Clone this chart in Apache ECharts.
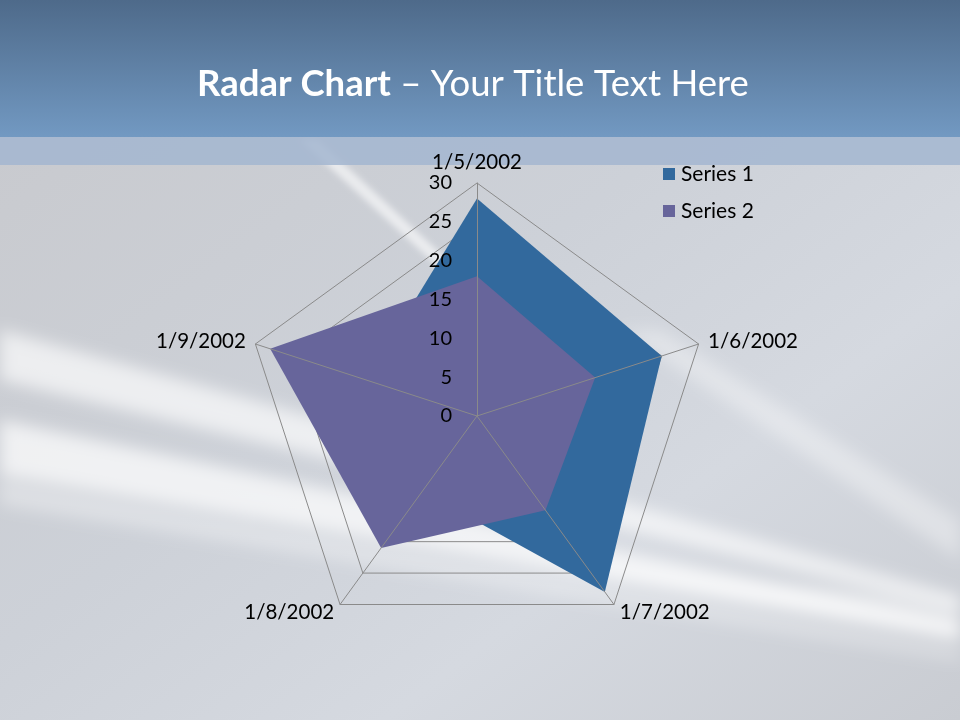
<!DOCTYPE html>
<html><head><meta charset="utf-8">
<script src="https://cdn.jsdelivr.net/npm/echarts@6/dist/echarts.min.js"></script>
<style>
html,body{margin:0;padding:0;width:960px;height:720px;overflow:hidden;}
#bg{position:absolute;left:0;top:0;width:960px;height:720px;}
#main{position:absolute;left:0;top:0;width:960px;height:720px;}
</style></head>
<body>
<svg id="bg" width="960" height="720" xmlns="http://www.w3.org/2000/svg">
  <defs>
    <linearGradient id="hdr" x1="0" y1="0" x2="0" y2="1">
      <stop offset="0" stop-color="#4e6a8a"/>
      <stop offset="1" stop-color="#7299c2"/>
    </linearGradient>
    <linearGradient id="base" x1="0" y1="0" x2="1" y2="1">
      <stop offset="0" stop-color="#c7c8cc"/>
      <stop offset="0.45" stop-color="#cdd1d8"/>
      <stop offset="0.7" stop-color="#d5d9e0"/>
      <stop offset="1" stop-color="#c9ccd2"/>
    </linearGradient>
    <filter id="blur8"><feGaussianBlur stdDeviation="8"/></filter>
    <filter id="blur3"><feGaussianBlur stdDeviation="3"/></filter>
  </defs>
  <rect x="0" y="0" width="960" height="720" fill="url(#base)"/>
  <g filter="url(#blur8)" fill="#ffffff">
    <polygon points="0,330 0,380 960,610 960,596" opacity="0.65"/>
    <polygon points="0,420 0,475 960,640 960,622" opacity="0.7"/>
    <polygon points="0,480 0,505 960,660 960,650" opacity="0.35"/>
    <polygon points="620,330 660,330 960,520 960,560" opacity="0.35"/>
    <polygon points="520,560 960,600 960,640" opacity="0.35"/>
  </g>
  <g filter="url(#blur3)" fill="#ffffff">
    <polygon points="300,140 318,140 480,290 470,296" opacity="0.6"/>
  </g>
  <rect x="0" y="0" width="960" height="137" fill="url(#hdr)"/>
  <rect x="0" y="137" width="960" height="28" fill="#a3b6d0" opacity="0.85"/>
</svg>
<div id="main"></div>
<script>
var categories = ['1/5/2002','1/6/2002','1/7/2002','1/8/2002','1/9/2002'];
var series1 = [28, 25, 28, 12, 15];
var series2 = [18, 16, 15, 21, 28];
var tickMax = 30;
var tickStep = 5;

// ECharts places indicators counter-clockwise; reorder for clockwise layout
var order = [0,4,3,2,1];
function reorder(a){ return order.map(function(i){return a[i];}); }
var indicators = order.map(function(i){ return {name: categories[i], max: tickMax, min: 0}; });
var indicatorsTop = order.map(function(i, k){
  var o = {name: categories[i], max: tickMax, min: 0};
  if (k === 0) o.axisLabel = {show: true};
  return o;
});

var chart = echarts.init(document.getElementById('main'));
var font = 'Lato';
var splitN = tickMax / tickStep;
chart.setOption({
  backgroundColor: 'transparent',
  title: {
    text: '{b|Radar Chart} – Your Title Text Here',
    left: 192, top: 61,
    textStyle: {color:'#fff', fontFamily: font, fontSize: 36.5, fontWeight:'normal',
      rich: {b:{fontWeight:'bold', fontSize:36.5, fontFamily: font, color:'#fff'}}}
  },
  legend: {
    orient: 'vertical', left: 658, top: 157, itemWidth: 12, itemHeight: 12, itemGap: 13,
    icon: 'rect',
    textStyle: {fontFamily: font, fontSize: 21, lineHeight: 24, color: '#000', padding: [0,0,0,1]},
    data: ['Series 1','Series 2']
  },
  radar: [{
    center: [477, 416], radius: 233, startAngle: 90, splitNumber: splitN, shape: 'polygon',
    indicator: indicators,
    axisName: {color:'#000', fontFamily: font, fontSize: 20.5},
    nameGap: 10,
    splitLine: {lineStyle: {color:'#8a8a8a', width: 1}},
    splitArea: {show: false},
    axisLine: {show: false},
    axisTick: {show: false},
    axisLabel: {show: false}
  },{
    center: [477, 416], radius: 233, startAngle: 90, splitNumber: splitN, shape: 'polygon',
    indicator: indicatorsTop, z: 5,
    axisName: {show: false},
    splitLine: {show: false}, splitArea: {show: false},
    axisLine: {lineStyle: {color:'#8a8a8a', width: 1}},
    axisTick: {show: false},
    axisLabel: {show: false, color:'#000', fontFamily: font, fontSize: 20, margin: 25}
  }],
  series: [{
    type: 'radar', radarIndex: 0, z: 2,
    symbol: 'none',
    data: [
      {name: 'Series 1', value: reorder(series1), itemStyle:{color:'#32699d'}, lineStyle:{width:0, color:'#32699d'}, areaStyle:{color:'#32699d', opacity:1}},
      {name: 'Series 2', value: reorder(series2), itemStyle:{color:'#67659b'}, lineStyle:{width:0, color:'#67659b'}, areaStyle:{color:'#67659b', opacity:1}}
    ]
  }]
});
</script></body></html>
